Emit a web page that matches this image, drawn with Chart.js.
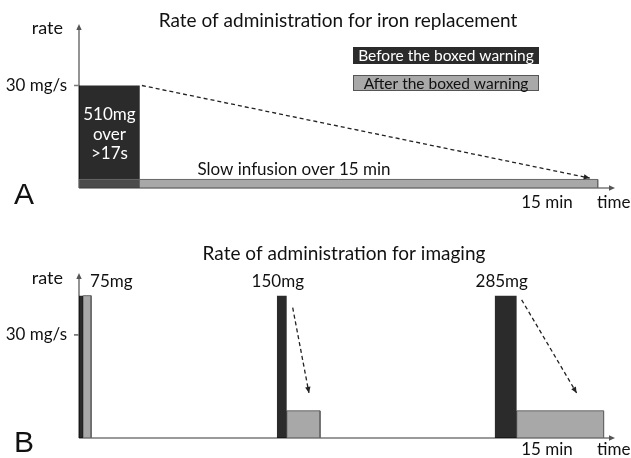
<!DOCTYPE html>
<html>
<head>
<meta charset="utf-8">
<script src="https://cdn.jsdelivr.net/npm/chart.js@4.4.1/dist/chart.umd.min.js"></script>
<style>
html, body {margin: 0; padding: 0; background: #fff;}
#wrap {width: 631px; height: 458px; position: relative;}
.panel {position: absolute; left: 0; width: 631px; height: 229px;}
</style>
</head>
<body>
<div id="wrap">
    <div class="panel" style="top:0"><canvas id="chartA" width="631" height="229"></canvas></div>
    <div class="panel" style="top:229px"><canvas id="chartB" width="631" height="229"></canvas></div>
</div>
<script>
//축 범위 (x: 도식상 분 단위, y: mg/s)
const xMax = 15.5;
const yMax = 48;
const rateTick = 30;

//A - iron replacement
const ironBeforeX = [0, 1.76];
const ironBeforeRate = 30;
const ironAfterX = [0, 15];
const ironAfterRate = 2.5;
const ironArrowX = [1.82, 14.77];
const ironArrowY = [30, 2.9];

//B - imaging
const doseLabels = ['75mg', '150mg', '285mg'];
const beforeStart = [0, 5.72, 12.02];
const beforeEnd = [0.12, 6.01, 12.66];
const beforeRate = [41.4, 41.4, 41.4];
const afterStart = [0.12, 6.01, 12.66];
const afterEnd = [0.35, 6.97, 15.17];
const afterRate = [41.4, 7.9, 7.9];
const arrowFromX = [null, 6.18, 12.8];
const arrowFromY = [null, 37.9, 40.2];
const arrowToX = [null, 6.65, 14.39];
const arrowToY = [null, 13.1, 13.1];

const FONT = 'Lato, "Open Sans", sans-serif';
const DARK = 'rgba(0,0,0,0.83)';
const GRAY = 'rgba(100,100,100,0.56)';

//사각형 - 꼭짓점 4개
function rect(x0, x1, h) {
    return [{x: x0, y: 0}, {x: x0, y: h}, {x: x1, y: h}, {x: x1, y: 0}];
}

function barSet(data, color, border, order) {
    return {data, backgroundColor: color, borderColor: border, borderWidth: 1, fill: 'origin', showLine: true, pointRadius: 0, tension: 0, order};
}

function arrowSet(from, to) {
    return {data: [from, to], borderColor: '#222', borderWidth: 1.3, borderDash: [4, 3], showLine: true, pointRadius: 0, fill: false, arrow: true, order: 0};
}

function text(ctx, str, x, y, font, color, align = 'left', base = 'middle') {
    ctx.font = font;
    ctx.fillStyle = color;
    ctx.textAlign = align;
    ctx.textBaseline = base;
    ctx.fillText(str, x, y);
}

function arrowHead(ctx, x, y, ang, size, color) {
    ctx.save();
    ctx.translate(x, y);
    ctx.rotate(ang);
    ctx.fillStyle = color;
    ctx.beginPath();
    ctx.moveTo(0, 0);
    ctx.lineTo(-size, -size * 0.45);
    ctx.lineTo(-size, size * 0.45);
    ctx.closePath();
    ctx.fill();
    ctx.restore();
}

//공통 - 축, 눈금, 화살표
const axesPlugin = {
    id: 'axesPlugin',
    beforeDatasetsDraw(chart) {
        const {ctx, chartArea: ca, scales: {y}} = chart;
        ctx.save();
        ctx.strokeStyle = '#7a7a7a';
        ctx.lineWidth = 1.6;
        ctx.beginPath();
        ctx.moveTo(ca.left, ca.bottom);
        ctx.lineTo(ca.right - 3, ca.bottom);
        ctx.moveTo(ca.left, ca.bottom);
        ctx.lineTo(ca.left, ca.top + 3);
        const ty = y.getPixelForValue(rateTick);
        ctx.moveTo(ca.left - 5, ty);
        ctx.lineTo(ca.left, ty);
        ctx.stroke();
        arrowHead(ctx, ca.right, ca.bottom, 0, 6, '#555');
        arrowHead(ctx, ca.left, ca.top, -Math.PI / 2, 6, '#555');
        text(ctx, '30 mg/s', ca.left - 12, ty, '17px ' + FONT, '#111', 'right');
        ctx.restore();
    },
    afterDatasetsDraw(chart) {
        const {ctx} = chart;
        chart.data.datasets.forEach((ds, i) => {
            if (!ds.arrow) return;
            const pts = chart.getDatasetMeta(i).data;
            const a = pts[pts.length - 2], b = pts[pts.length - 1];
            arrowHead(ctx, b.x, b.y, Math.atan2(b.y - a.y, b.x - a.x), 6, '#222');
        });
    }
};

//A - 텍스트 및 범례
const panelAPlugin = {
    id: 'panelA',
    afterDraw(chart) {
        const {ctx, chartArea: ca, scales: {x, y}} = chart;
        ctx.save();
        text(ctx, 'Rate of administration for iron replacement', 338, 21, '19px ' + FONT, '#111', 'center');
        text(ctx, 'rate', ca.left - 16, 28, '18px ' + FONT, '#111', 'right');
        text(ctx, 'A', 14, 204, '30px "Liberation Sans", Arial, sans-serif', '#111', 'left', 'alphabetic');
        text(ctx, '15 min', 547, 203, '17px ' + FONT, '#111', 'center');
        text(ctx, 'time', 597, 203, '17px ' + FONT, '#111', 'left');
        text(ctx, 'Slow infusion over 15 min', 294, 170, '17px ' + FONT, '#111', 'center');
        const cx = x.getPixelForValue((ironBeforeX[0] + ironBeforeX[1]) / 2);
        ['510mg', 'over', '>17s'].forEach((s, i) => text(ctx, s, cx, 115 + i * 19.5, '17px ' + FONT, '#fff', 'center'));
        //legend
        ctx.fillStyle = '#2b2b2b';
        ctx.fillRect(353, 47, 186, 17);
        text(ctx, 'Before the boxed warning', 446, 56, '15.5px ' + FONT, '#fff', 'center');
        ctx.fillStyle = '#a9a9a9';
        ctx.fillRect(353, 75, 186, 16);
        ctx.strokeStyle = '#555';
        ctx.lineWidth = 1;
        ctx.strokeRect(353.5, 75.5, 185, 15);
        text(ctx, 'After the boxed warning', 446, 83.5, '15.5px ' + FONT, '#111', 'center');
        ctx.restore();
    }
};

//B - 텍스트
const panelBPlugin = {
    id: 'panelB',
    afterDraw(chart) {
        const {ctx, chartArea: ca, scales: {x, y}} = chart;
        ctx.save();
        text(ctx, 'Rate of administration for imaging', 344, 25, '19px ' + FONT, '#111', 'center');
        text(ctx, 'rate', ca.left - 16, 49, '18px ' + FONT, '#111', 'right');
        text(ctx, 'B', 14, 223, '30px "Liberation Sans", Arial, sans-serif', '#111', 'left', 'alphabetic');
        text(ctx, '15 min', 547, 221, '17px ' + FONT, '#111', 'center');
        text(ctx, 'time', 597, 221, '17px ' + FONT, '#111', 'left');
        doseLabels.forEach((lab, i) => {
            const ly = y.getPixelForValue(beforeRate[i]) - 14;
            if (i === 0) text(ctx, lab, x.getPixelForValue(afterEnd[i]) - 1, ly, '17px ' + FONT, '#111', 'left');
            else text(ctx, lab, x.getPixelForValue((beforeStart[i] + beforeEnd[i]) / 2) - 4, ly, '17px ' + FONT, '#111', 'center');
        });
        ctx.restore();
    }
};

function baseOptions(padding) {
    return {
        responsive: false,
        animation: false,
        layout: {padding},
        plugins: {legend: {display: false}, tooltip: {enabled: false}},
        scales: {
            x: {type: 'linear', min: 0, max: xMax, display: false},
            y: {type: 'linear', min: 0, max: yMax, display: false}
        }
    };
}

//chart A
new Chart(document.getElementById('chartA'), {
    type: 'scatter',
    data: {
        datasets: [
            barSet(rect(ironBeforeX[0], ironBeforeX[1], ironBeforeRate), DARK, 'rgba(0,0,0,0)', 2),
            barSet(rect(ironAfterX[0], ironAfterX[1], ironAfterRate), GRAY, '#666', 1),
            arrowSet({x: ironArrowX[0], y: ironArrowY[0]}, {x: ironArrowX[1], y: ironArrowY[1]})
        ]
    },
    options: baseOptions({left: 79, right: 16, top: 24, bottom: 41}),
    plugins: [axesPlugin, panelAPlugin]
});

//chart B
const setsB = [];
afterStart.forEach((s, i) => setsB.push(barSet(rect(s, afterEnd[i], afterRate[i]), GRAY, '#666', 2)));
beforeStart.forEach((s, i) => setsB.push(barSet(rect(s, beforeEnd[i], beforeRate[i]), DARK, 'rgba(0,0,0,0)', 1)));
arrowFromX.forEach((fx, i) => {
    if (fx === null) return;
    setsB.push(arrowSet({x: fx, y: arrowFromY[i]}, {x: arrowToX[i], y: arrowToY[i]}));
});

new Chart(document.getElementById('chartB'), {
    type: 'scatter',
    data: {datasets: setsB},
    options: baseOptions({left: 79, right: 16, top: 44, bottom: 20}),
    plugins: [axesPlugin, panelBPlugin]
});
</script>
</body>
</html>
